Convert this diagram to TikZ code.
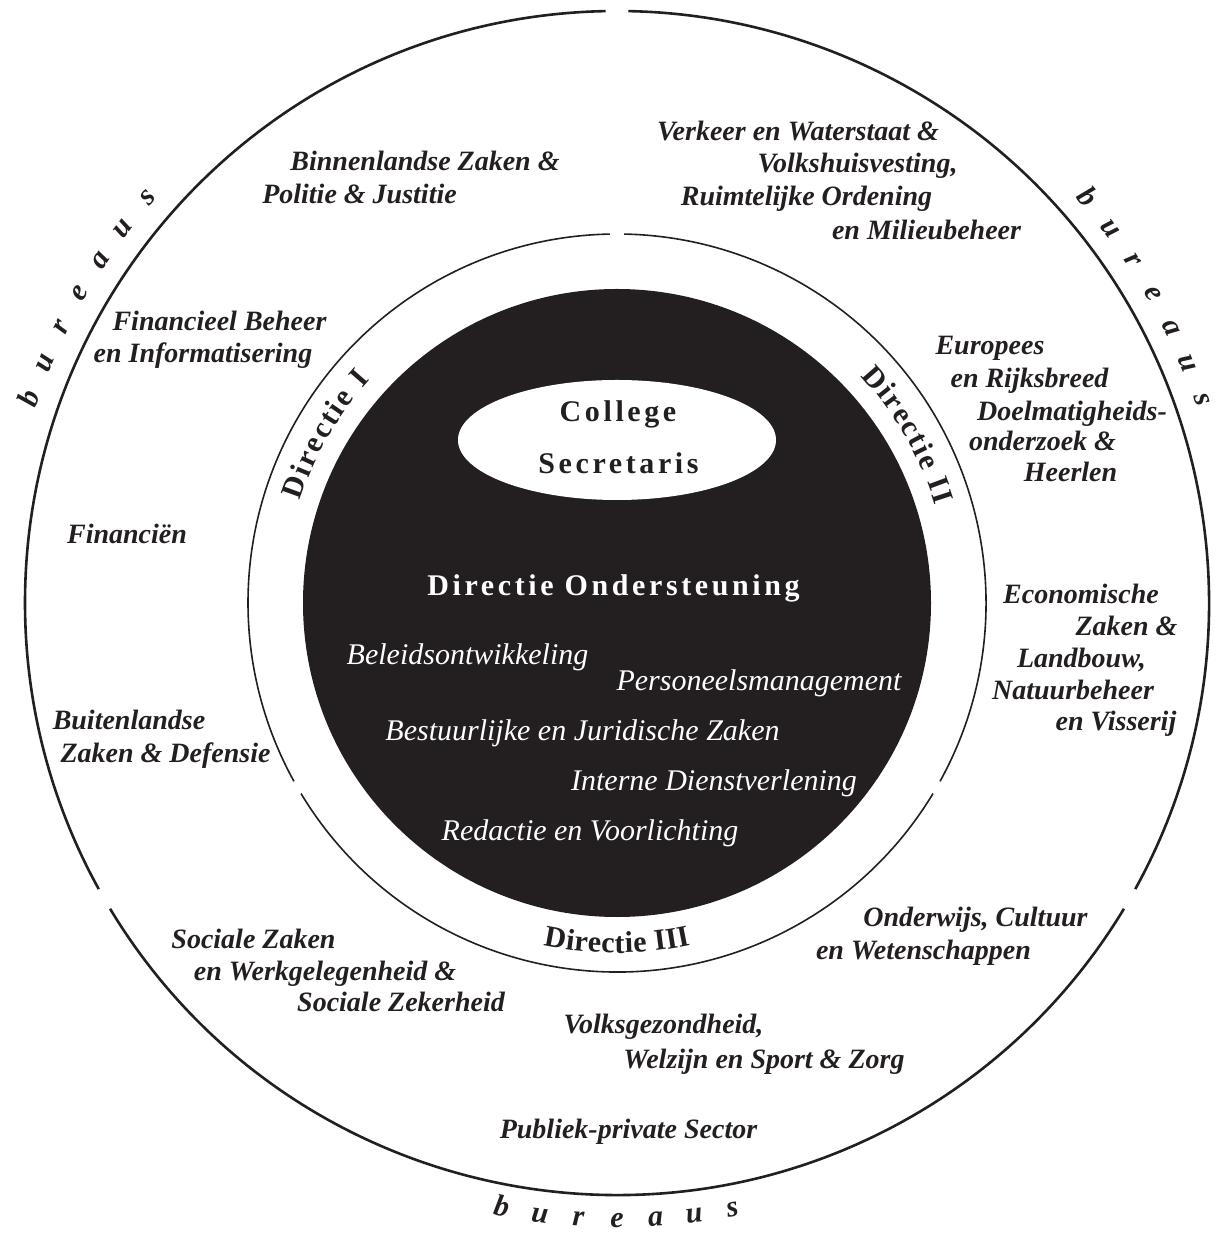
\documentclass[tikz,border=0pt]{standalone}
\usepackage{fontspec}
\setmainfont{Liberation Serif}
\newfontfamily\kopfont[LetterSpace=12]{Liberation Serif}
\newfontfamily\dirfont{Liberation Serif}
\usetikzlibrary{decorations.text}
\definecolor{inkt}{RGB}{35,31,32}
\newcommand\dirsize{\dirfont\fontsize{15}{18}\selectfont\bfseries}

\begin{document}
\begin{tikzpicture}[x=0.5pt, y=0.5pt,
  bureau/.style={font=\fontsize{14}{16}\selectfont\bfseries\itshape, text=inkt, anchor=base, inner sep=0pt},
  dienst/.style={font=\fontsize{15}{18}\selectfont\itshape, text=white, anchor=base, inner sep=0pt},
  kop/.style={font=\kopfont\fontsize{15}{18}\selectfont\bfseries, anchor=base, inner sep=0pt},
  letter/.style={font=\fontsize{15}{18}\selectfont\bfseries\itshape, text=inkt, anchor=base, inner sep=0pt},
  dirlabel/.style 2 args={decorate, decoration={text effects along path, text={#1}, text align=center,
    text effects/.cd, text along path, characters={font=\dirsize, text=inkt, inner xsep=#2}}}]

 \useasboundingbox (-617,-631) rectangle (601,603);

 \def\ro{592};
 \def\ri{369};
 \def\rd{314};
 \def\gap{1.1};

 \coordinate (c) at (0,0);

 %draw rings, cut at 90, 210 and 330
 \foreach \a in {90,210,330}{
   \draw[inkt, line width=1.3pt] (\a+\gap:\ro) arc[start angle=\a+\gap, end angle=\a+120-\gap, radius=\ro];
   \draw[inkt, line width=0.8pt] (\a+\gap:\ri) arc[start angle=\a+\gap, end angle=\a+120-\gap, radius=\ri];
 }

 %black disk and college
 \fill[inkt] (c) circle[radius=\rd];
 \fill[white] (0,163) ellipse[x radius=159, y radius=60];
 \node[kop, text=inkt] (college) at (1,181) {College};
 \node[kop, text=inkt] (secr) at (1.5,129) {Secretaris};
 \node[kop, text=white] (dirond) at (-3.5,7) {Directie Ondersteuning};

 %afdelingen
 \foreach \x/\y/\txt/\name in {-149.5/-62/Beleidsontwikkeling/do1,
     142/-88/Personeelsmanagement/do2,
     -34.5/-138/Bestuurlijke en Juridische Zaken/do3,
     97/-188/Interne Dienstverlening/do4,
     -27/-237/Redactie en Voorlichting/do5}{
   \node[dienst] (\name) at (\x,\y) {\txt};
 }

 %directies
 \path[dirlabel={Directie I}{0.55pt}] (175:333) arc[start angle=175, end angle=125, radius=333];
 \path[dirlabel={Directie II}{0.45pt}] (55:333) arc[start angle=55, end angle=5, radius=333];
 \path[dirlabel={Directie III}{0.1pt}] (245:350) arc[start angle=245, end angle=295, radius=350];

 %bureaus, outer ring
 \foreach \x/\y/\txt/\name in {-192/432/{Binnenlandse Zaken \&}/bz1,
     -257.5/399/{Politie \& Justitie}/bz2,
     181/462/{Verkeer en Waterstaat \&}/vw1,
     240.5/430/{Volkshuisvesting,}/vw2,
     189.5/397/{Ruimtelijke Ordening}/vw3,
     309.5/363/{en Milieubeheer}/vw4,
     -397.5/272/{Financieel Beheer}/fb1,
     -414/240/{en Informatisering}/fb2,
     373/248/{Europees}/eu1,
     412.5/215/{en Rijksbreed}/eu2,
     455/182/{Doelmatigheids-}/eu3,
     425.5/152/{onderzoek \&}/eu4,
     453.5/121/{Heerlen}/eu5,
     -490/59/{Financiën}/fin,
     464/-1/{Economische}/ez1,
     509.5/-33/{Zaken \&}/ez2,
     464.5/-65/{Landbouw,}/ez3,
     456/-97/{Natuurbeheer}/ez4,
     499/-128/{en Visserij}/ez5,
     -488/-127/{Buitenlandse}/bu1,
     -451.5/-160/{Zaken \& Defensie}/bu2,
     358.5/-323/{Onderwijs, Cultuur}/oc1,
     306.5/-356/{en Wetenschappen}/oc2,
     -363.5/-345/{Sociale Zaken}/sz1,
     -292/-377/{en Werkgelegenheid \&}/sz2,
     -216/-408/{Sociale Zekerheid}/sz3,
     46.5/-430/{Volksgezondheid,}/vws1,
     147/-465/{Welzijn en Sport \& Zorg}/vws2,
     11.5/-535/{Publiek-private Sector}/pps}{
   \node[bureau] (\name) at (\x,\y) {\txt};
 }

 %bureaus, text round the ring
 \foreach \m/\rad/\dir/\turn in {150/613/-1/-90, 30/612/-1/-90, 270/624/1/90}{
   \foreach \l [count=\k] in {b,u,r,e,a,u,s}{
     \pgfmathsetmacro\ang{\m+\dir*(\k-4)*3.6}
     \pgfmathsetmacro\rot{\ang+\turn}
     \node[letter, rotate=\rot] (b\m-\k) at (\ang:\rad) {\l};
   }
 }

\end{tikzpicture}
\end{document}
